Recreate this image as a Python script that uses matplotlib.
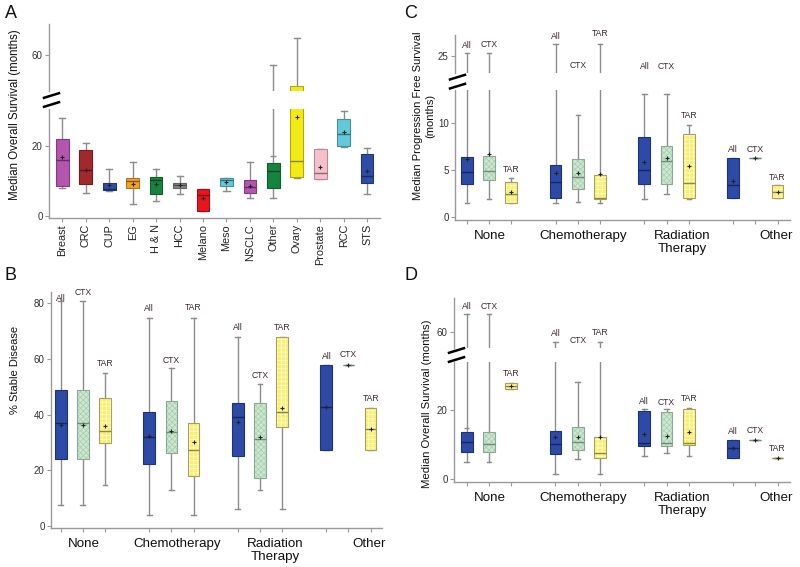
import numpy as np
import matplotlib
matplotlib.use('Agg')
import matplotlib.pyplot as plt
from matplotlib.lines import Line2D
from matplotlib.patches import PathPatch
import matplotlib.colors as mcolors

plt.rcParams['font.family'] = ['Liberation Sans', 'DejaVu Sans']
plt.rcParams['hatch.linewidth'] = 0.6

nan = np.nan
W, H = 800, 567

# ---------------- data: panel A ----------------
a_categories = ['Breast', 'CRC', 'CUP', 'EG', 'H & N', 'HCC', 'Melano', 'Meso',
                'NSCLC', 'Other', 'Ovary', 'Prostate', 'RCC', 'STS']
a_colors = ['#B455AE', '#A3282B', '#2F4DA6', '#F4A325', '#16843F', '#8A8A8A', '#E8141E',
            '#62C9DA', '#B455AE', '#16843F', '#F3EB15', '#F7BFCC', '#62C9DA', '#2F4DA6']
a_whislo = [7.8, 6.5, 7.1, 3.3, 4.1, 6.1, 1.3, 7.1, 5.0, 5.2, 10.7, 10.6, 19.6, 6.2]
a_q1 = [8.6, 9.2, 7.4, 7.9, 6.2, 7.9, 1.3, 8.6, 6.4, 7.8, 11.0, 10.6, 19.9, 9.3]
a_med = [15.9, 13.0, 7.6, 9.9, 10.1, 8.8, 6.0, 10.2, 8.3, 12.7, 15.7, 12.2, 23.3, 11.3]
a_q3 = [21.9, 18.9, 9.4, 10.9, 11.1, 9.3, 7.5, 10.7, 10.3, 15.0, 51.0, 19.1, 27.6, 17.7]
a_whishi = [27.8, 20.7, 13.4, 15.4, 13.4, 11.3, 7.5, 10.7, 15.3, 57.0, 64.9, 19.1, 29.8, 19.4]
a_mean = [16.8, 13.2, 8.9, 9.2, 9.1, 8.7, 5.0, 9.6, 8.6, nan, 28.1, 14.0, 23.9, 12.9]
a_inner_cap = [nan, nan, nan, nan, nan, nan, nan, nan, nan, 17.1, nan, nan, nan, nan]

# ---------------- data: panels B, C, D ----------------
groups = ['None', 'Chemotherapy', 'Radiation\nTherapy', 'Other']
types = ['All', 'CTX', 'TAR']

b_whislo = [7.4, 7.4, 14.8, 3.8, 13.0, 3.8, 6.1, 13.0, 6.1, 27.3, 57.9, 27.3]
b_q1 = [24.1, 24.1, 29.9, 22.1, 26.0, 17.8, 25.0, 17.0, 35.6, 27.3, 57.9, 27.3]
b_med = [37.1, 37.1, 34.0, 32.0, 33.7, 27.3, 39.0, 31.1, 40.9, 42.6, 57.9, 34.8]
b_q3 = [48.8, 48.9, 45.8, 40.9, 44.9, 37.1, 44.3, 44.3, 67.9, 57.9, 57.9, 42.4]
b_whishi = [80.9, 80.9, 55.0, 74.8, 56.7, 74.8, 67.9, 51.1, 67.9, 57.9, 57.9, 42.4]
b_mean = [36.2, 36.2, 35.9, 32.3, 34.2, 30.2, 37.3, 32.0, 42.5, 42.6, 57.9, 34.8]
b_label_y = [81.8, 84.0, 58.4, 78.2, 59.6, 78.4, 71.2, 54.2, 71.2, 60.8, 61.7, 45.8]

c_whislo = [1.55, 1.9, 1.55, 1.5, 1.6, 1.5, 1.95, 2.45, 1.95, 2.0, 6.3, 2.0]
c_q1 = [3.5, 4.0, 1.55, 2.1, 3.0, 1.95, 3.5, 3.5, 2.0, 2.0, 6.3, 2.0]
c_med = [4.8, 4.9, 2.5, 3.8, 4.3, 2.05, 5.0, 6.0, 3.6, 3.4, 6.3, 2.65]
c_q3 = [6.4, 6.5, 3.8, 5.6, 6.2, 4.5, 8.5, 7.6, 8.9, 6.3, 6.3, 3.4]
c_whishi = [25.3, 25.3, 4.2, 26.3, 10.9, 26.3, 13.1, 13.1, 9.8, 6.3, 6.3, 3.4]
c_mean = [6.2, 6.7, 2.7, 4.7, 4.75, 4.6, 5.85, 6.3, 5.5, 3.9, 6.3, 2.65]
c_label_y = [18.3, 18.4, 5.1, 19.2, 16.1, 19.5, 16.0, 16.0, 10.8, 7.2, 7.2, 4.2]

d_whislo = [5.1, 5.1, 26.0, 1.5, 5.9, 1.5, 6.7, 7.7, 6.7, 6.1, 11.4, 6.2]
d_q1 = [7.9, 7.8, 26.0, 7.3, 8.4, 6.2, 9.7, 9.6, 9.9, 6.1, 11.4, 6.2]
d_med = [10.75, 10.1, 27.0, 10.2, 10.8, 7.7, 10.5, 10.5, 10.5, 8.9, 11.4, 6.2]
d_q3 = [13.7, 13.7, 27.8, 13.8, 15.0, 12.1, 19.6, 19.3, 20.3, 11.4, 11.4, 6.2]
d_whishi = [65.0, 65.0, 27.8, 56.9, 28.1, 56.9, 20.3, 20.2, 20.5, 11.4, 11.4, 6.2]
d_mean = [nan, nan, 27.0, 12.1, 12.3, 12.1, 13.1, 12.6, 13.7, 8.9, 11.4, 6.2]
d_label_y = [49.9, 49.9, 30.5, 42.1, 40.1, 42.3, 22.4, 22.2, 23.3, 13.7, 14.0, 8.8]
d_inner_cap = [14.7, nan, nan, nan, nan, nan, nan, nan, nan, nan, nan, nan]

# ---------------- styles ----------------
SPINE = '#9a9a9a'
WHISK = '#8c8c8c'
TXT = '#333333'
type_face = {'All': '#2C4AA6', 'CTX': '#CDE8D1', 'TAR': '#F8F06A'}
type_edge = {'All': '#1E3278', 'CTX': '#8FA896', 'TAR': '#A8A060'}
type_med = {'All': '#16255E', 'CTX': '#6F8A76', 'TAR': '#8E8640'}
type_hatch = {'All': None, 'CTX': 'xxxxxx', 'TAR': '++++'}
type_hatchcol = {'All': None, 'CTX': '#A9CFB1', 'TAR': '#FFFBD0'}


def darken(c, f):
    r, g, b = mcolors.to_rgb(c)
    return (r * f, g * f, b * f)


def fig_rect(x0, x1, ytop, ybot):
    return [x0 / W, 1 - ybot / H, (x1 - x0) / W, (ybot - ytop) / H]


def style_axis(ax, ylim, yticks, xlim, bottom=True):
    ax.set_ylim(*ylim)
    ax.set_xlim(*xlim)
    ax.set_yticks(yticks)
    ax.patch.set_visible(False)
    for s in ['top', 'right']:
        ax.spines[s].set_visible(False)
    ax.spines['left'].set_color(SPINE)
    ax.spines['bottom'].set_color(SPINE)
    ax.spines['left'].set_linewidth(1.0)
    ax.spines['bottom'].set_linewidth(1.0)
    ax.tick_params(axis='both', colors=SPINE, labelcolor=TXT, labelsize=7,
                   length=3, width=0.8, pad=1.5)
    if not bottom:
        ax.spines['bottom'].set_visible(False)
        ax.tick_params(axis='x', bottom=False, labelbottom=False)


def draw_boxes(ax, stats, positions, faces, edges, medcols, hatches, hatchcols,
               width, capw, means, inner=None):
    bp = ax.bxp(stats, positions=positions, widths=width, capwidths=capw,
                patch_artist=True, showfliers=False, manage_ticks=False,
                whiskerprops=dict(color=WHISK, lw=1.0),
                capprops=dict(color=WHISK, lw=1.0),
                medianprops=dict(lw=1.0),
                boxprops=dict(lw=0.8))
    for i, patch in enumerate(bp['boxes']):
        patch.set_facecolor(faces[i])
        patch.set_zorder(3)
        if hatches[i]:
            patch.set_hatch(hatches[i])
            patch.set_edgecolor(hatchcols[i])
            patch.set_linewidth(0)
            outline = PathPatch(patch.get_path(), transform=patch.get_transform(),
                                fill=False, edgecolor=edges[i], lw=0.8, zorder=3.2)
            ax.add_patch(outline)
        else:
            patch.set_edgecolor(edges[i])
        bp['medians'][i].set_color(medcols[i])
        bp['medians'][i].set_zorder(4)
    for w in bp['whiskers']:
        w.set_zorder(2)
    for c in bp['caps']:
        c.set_zorder(2.5)
    pos = np.asarray(positions, float)
    m = np.asarray(means, float)
    ok = ~np.isnan(m)
    ax.plot(pos[ok], m[ok], ls='none', marker='+', ms=2.8, mew=0.8,
            color='#222222', zorder=5)
    if inner is not None:
        v = np.asarray(inner, float)
        okc = ~np.isnan(v)
        ax.hlines(v[okc], pos[okc] - capw / 2, pos[okc] + capw / 2,
                  color=WHISK, lw=1.0, zorder=2.5)


def make_stats(whislo, q1, med, q3, whishi):
    return [dict(whislo=a, q1=b, med=c, q3=d, whishi=e, fliers=[])
            for a, b, c, d, e in zip(whislo, q1, med, q3, whishi)]


def break_marks(ax_low, ax_up):
    lp = ax_low.get_position()
    up = ax_up.get_position()
    xc = lp.x0 * W + 2.5
    yc = (lp.y1 + up.y0) / 2 * H
    for dy in (-4.5, 4.5):
        y = yc + dy
        fig.add_artist(Line2D([(xc - 7.5) / W, (xc + 7.5) / W],
                              [(y - 2.3) / H, (y + 2.3) / H],
                              transform=fig.transFigure, color='black', lw=1.8))


fig = plt.figure(figsize=(8, 5.67), dpi=100)

# ---------------- Panel A ----------------
a_pos = list(range(len(a_categories)))
a_stats = make_stats(a_whislo, a_q1, a_med, a_q3, a_whishi)
a_edges = [darken(c, 0.72) for c in a_colors]
a_meds = [darken(c, 0.55) for c in a_colors]
axA_lo = fig.add_axes(fig_rect(49, 380, 109, 217.7))
axA_up = fig.add_axes(fig_rect(49, 380, 24.3, 91), sharex=axA_lo)
for ax in (axA_lo, axA_up):
    draw_boxes(ax, a_stats, a_pos, a_colors, a_edges, a_meds,
               [None] * 14, [None] * 14, 0.54, 0.26, a_mean, a_inner_cap)
style_axis(axA_lo, (-0.57, 30.5), [0, 20], (-0.57, 13.55))
style_axis(axA_up, (49.5, 68.7), [60], (-0.57, 13.55), bottom=False)
axA_lo.set_xticks(a_pos)
axA_lo.set_xticklabels(a_categories, rotation=90, fontsize=7.8, color='#222222')
break_marks(axA_lo, axA_up)

# ---------------- Panels B, C, D ----------------
bcd_pos = [g * 4 + k for g in range(len(groups)) for k in range(len(types))]
bcd_types = [t for g in groups for t in types]
faces = [type_face[t] for t in bcd_types]
edges = [type_edge[t] for t in bcd_types]
medc = [type_med[t] for t in bcd_types]
hatches = [type_hatch[t] for t in bcd_types]
hatchc = [type_hatchcol[t] for t in bcd_types]
group_label_x = [1.05, 5.25, 9.7, 13.95]


def group_labels(ax):
    ax.set_xticks(bcd_pos)
    ax.set_xticklabels([])
    for gx, gname in zip(group_label_x, groups):
        ax.annotate(gname, xy=(gx, 0), xycoords=('data', 'axes fraction'),
                    xytext=(0, -7.5), textcoords='offset points',
                    ha='center', va='top', fontsize=9.6, color='#111111',
                    linespacing=1.05, annotation_clip=False)


def type_labels(ax, ys):
    for x, y, t in zip(bcd_pos, ys, bcd_types):
        ax.text(x, y, t, ha='center', va='center', fontsize=6.2, color='#3a2a2a',
                clip_on=False, zorder=6)


# Panel B
axB = fig.add_axes(fig_rect(51, 381.7, 291.7, 527.7))
draw_boxes(axB, make_stats(b_whislo, b_q1, b_med, b_q3, b_whishi), bcd_pos,
           faces, edges, medc, hatches, hatchc, 0.53, 0.22, b_mean)
style_axis(axB, (-0.7, 84.2), [0, 20, 40, 60, 80], (-0.44, 14.5))
group_labels(axB)
type_labels(axB, b_label_y)

# Panel C
c_stats = make_stats(c_whislo, c_q1, c_med, c_q3, c_whishi)
axC_lo = fig.add_axes(fig_rect(455, 790, 90, 220))
axC_up = fig.add_axes(fig_rect(455, 790, 35, 73.3), sharex=axC_lo)
for ax in (axC_lo, axC_up):
    draw_boxes(ax, c_stats, bcd_pos, faces, edges, medc, hatches, hatchc,
               0.53, 0.2, c_mean)
style_axis(axC_lo, (-0.29, 13.54), [0, 5, 10], (-0.53, 14.56))
style_axis(axC_up, (23.16, 27.23), [25], (-0.53, 14.56), bottom=False)
group_labels(axC_lo)
type_labels(axC_lo, c_label_y)
break_marks(axC_lo, axC_up)

# Panel D
d_stats = make_stats(d_whislo, d_q1, d_med, d_q3, d_whishi)
axD_lo = fig.add_axes(fig_rect(454, 790, 361.7, 481.7))
axD_up = fig.add_axes(fig_rect(454, 790, 298.3, 348.3), sharex=axD_lo)
for ax in (axD_lo, axD_up):
    draw_boxes(ax, d_stats, bcd_pos, faces, edges, medc, hatches, hatchc,
               0.53, 0.2, d_mean, d_inner_cap)
style_axis(axD_lo, (-0.7, 33.9), [0, 20], (-0.57, 14.56))
style_axis(axD_up, (55.2, 69.6), [60], (-0.57, 14.56), bottom=False)
group_labels(axD_lo)
type_labels(axD_lo, d_label_y)
break_marks(axD_lo, axD_up)

# ---------------- labels ----------------
def ftext(x, y, s, **kw):
    fig.text(x / W, 1 - y / H, s, **kw)


ftext(15, 115, 'Median Overall Survival (months)', rotation=90, ha='center',
      va='center', fontsize=8.3, color='#111111')
ftext(15, 370, '% Stable Disease', rotation=90, ha='center', va='center',
      fontsize=8, color='#111111')
ftext(424, 116, 'Median Progression Free Survival\n(months)', rotation=90,
      ha='center', va='center', fontsize=8, color='#111111', linespacing=1.35,
      multialignment='center')
ftext(427, 404, 'Median Overall Survival (months)', rotation=90, ha='center',
      va='center', fontsize=8.2, color='#111111')

for letter, (x, y) in zip('ABCD', [(11, 14), (11, 276), (411, 14), (411, 275)]):
    ftext(x, y, letter, ha='center', va='center', fontsize=13, color='#111111')

fig.savefig('out.png', dpi=100)
